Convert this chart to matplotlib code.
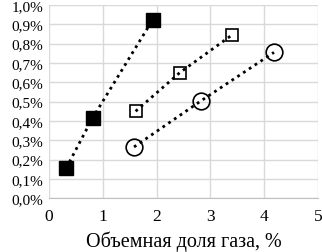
import matplotlib
matplotlib.use("Agg")
import matplotlib.pyplot as plt
from matplotlib.ticker import FuncFormatter

# ── data ─────────────────────────────────────────────────
filled_x = [0.32, 0.81, 1.93]
filled_y = [0.155, 0.415, 0.925]
open_sq_x = [1.61, 2.43, 3.40]
open_sq_y = [0.45, 0.65, 0.845]
circle_x = [1.58, 2.83, 4.18]
circle_y = [0.265, 0.505, 0.755]

plt.rcParams['font.family'] = ['Liberation Serif', 'DejaVu Serif']

fig = plt.figure(figsize=(3.22, 2.53), dpi=100)
ax = fig.add_axes([0.152, 0.213, 0.836, 0.763])

line_kw = dict(color="black", linestyle=(0, (1, 1.5)), lw=2.0)
ax.plot(filled_x, filled_y, marker="s", ms=10, mfc="black", mec="black", **line_kw)
ax.plot(open_sq_x, open_sq_y, marker="s", ms=9, mfc="none", mec="black", mew=1.2, **line_kw)
ax.plot(circle_x, circle_y, marker="o", ms=12, mfc="none", mec="black", mew=1.2, **line_kw)

ax.set_xlim(0, 5)
ax.set_ylim(0, 1.0)
ax.set_xticks([0, 1, 2, 3, 4, 5])
ax.set_yticks([i / 10 for i in range(11)])
ax.yaxis.set_major_formatter(FuncFormatter(lambda v, p: f"{v:.1f}%".replace(".", ",")))
ax.grid(True, color="#d9d9d9", lw=1.0)
ax.set_axisbelow(True)
for s in ["top", "right", "left"]:
    ax.spines[s].set_visible(False)
ax.spines["bottom"].set_color("#bfbfbf")
ax.tick_params(length=0, labelsize=11, pad=4)
ax.tick_params(axis="x", labelsize=12.5, pad=7)
ax.set_xlabel("Объемная доля газа, %", fontsize=14.5, labelpad=5)

fig.savefig("out.png", dpi=100)
